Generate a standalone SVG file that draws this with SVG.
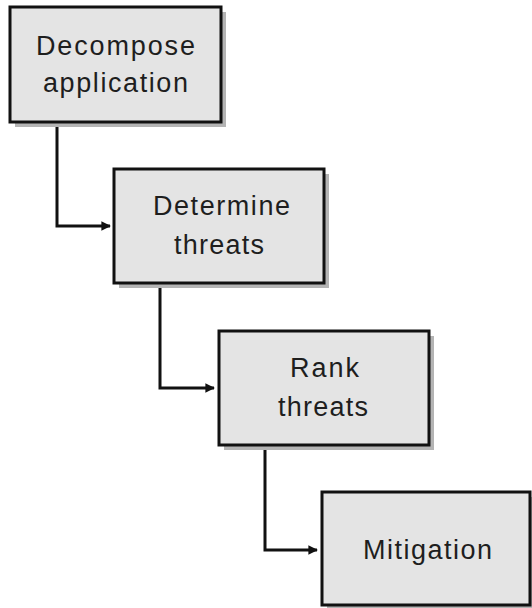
<svg xmlns="http://www.w3.org/2000/svg" width="532" height="608" viewBox="0 0 532 608">
<defs>
<style>
.shadow{fill:#b4b4b4;}
.box{fill:#e4e4e4;stroke:#111;stroke-width:3;}
.lbl{font-family:"Liberation Sans",Arial,sans-serif;font-size:27px;fill:#1e1e1e;text-anchor:middle;}
.conn{fill:none;stroke:#111;stroke-width:3;}
</style>
<marker id="arr" viewBox="0 0 10 10" refX="9" refY="5" markerWidth="3.2" markerHeight="3.2" orient="auto" markerUnits="strokeWidth">
<path d="M0,0 L10,5 L0,10 z" fill="#111"/>
</marker>
</defs>
<rect width="532" height="608" fill="#fff"/>
<g id="connectors">
<path class="conn" d="M57,123 V226 H110" marker-end="url(#arr)"/>
<path class="conn" d="M160,284 V388 H214" marker-end="url(#arr)"/>
<path class="conn" d="M265,446 V550 H317" marker-end="url(#arr)"/>
</g>
<g id="decompose">
<rect class="shadow" x="15" y="12" width="211" height="115"/>
<rect class="box" x="10" y="7" width="211" height="115"/>
<text class="lbl" x="115.5" y="55" textLength="159" lengthAdjust="spacing">Decompose</text>
<text class="lbl" x="115.5" y="92" textLength="145" lengthAdjust="spacing">application</text>
</g>
<g id="determine">
<rect class="shadow" x="119" y="174" width="210" height="114"/>
<rect class="box" x="114" y="169" width="210" height="114"/>
<text class="lbl" x="221.5" y="215" textLength="137" lengthAdjust="spacing">Determine</text>
<text class="lbl" x="219" y="254" textLength="90" lengthAdjust="spacing">threats</text>
</g>
<g id="rank">
<rect class="shadow" x="224" y="336" width="210" height="114"/>
<rect class="box" x="219" y="331" width="210" height="114"/>
<text class="lbl" x="324.5" y="377" textLength="69" lengthAdjust="spacing">Rank</text>
<text class="lbl" x="323" y="416" textLength="90" lengthAdjust="spacing">threats</text>
</g>
<g id="mitigation">
<rect class="shadow" x="327" y="497" width="208" height="113"/>
<rect class="box" x="322" y="492" width="208" height="113"/>
<text class="lbl" x="427.5" y="559" textLength="129" lengthAdjust="spacing">Mitigation</text>
</g>
</svg>
